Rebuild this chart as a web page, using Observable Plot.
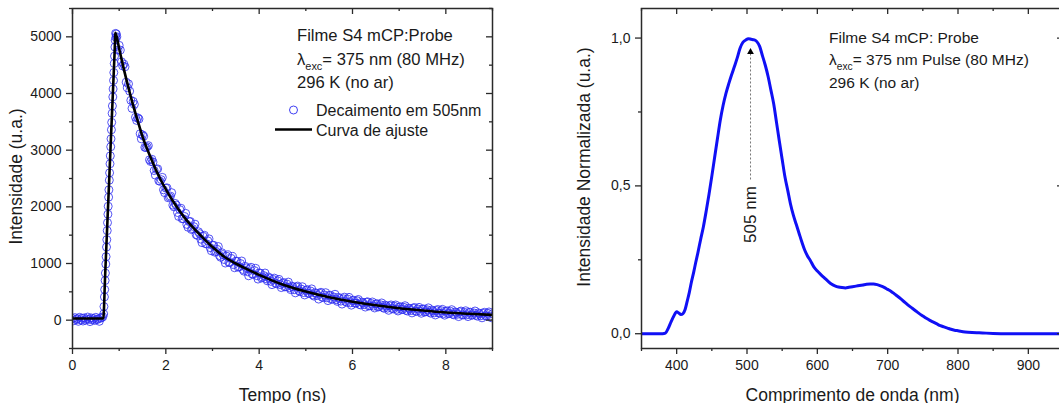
<!DOCTYPE html>
<html>
<head>
<meta charset="utf-8">
<script src="https://cdn.jsdelivr.net/npm/d3@7"></script>
<script src="https://cdn.jsdelivr.net/npm/@observablehq/plot@0.6"></script>
<style>
  html, body { margin: 0; padding: 0; background: #fff; overflow: hidden; }
  #wrap { display: flex; width: 1070px; height: 403px; }
  #wrap svg { flex: none; }
</style>
</head>
<body>
<div id="wrap"></div>
<script>
// ---------------- LEFT PANEL DATA: decay at 505 nm ----------------
// baseline channels (t = 0 .. 0.65 ns, 0.025 ns apart)
const baseStart = 0, baseStep = 0.025;
const baseCounts = [30, -10, 45, 10, 25, -20, 50, 5, 35, -15, 40, 0, 20, 55, 15, -25, 40, 5, 30, -5, 50, 10, 25, -20, 35, 45, 60];

// rising edge
const riseTime = [0.668, 0.674, 0.684, 0.690, 0.699, 0.705, 0.714, 0.720, 0.729, 0.735, 0.744, 0.750, 0.759, 0.765, 0.774, 0.780, 0.789, 0.795, 0.804, 0.810, 0.819, 0.825, 0.834, 0.840, 0.849, 0.855, 0.864, 0.870, 0.879, 0.885, 0.894, 0.900, 0.909, 0.915, 0.923, 0.930, 0.940];
const riseCounts = [110, 240, 410, 540, 700, 830, 990, 1120, 1290, 1420, 1580, 1720, 1870, 2010, 2170, 2300, 2470, 2600, 2760, 2900, 3060, 3200, 3360, 3490, 3650, 3780, 3940, 4080, 4230, 4370, 4530, 4660, 4820, 4940, 5060, 4990, 5050];

// decay channels, set A (t = 0.95 .. 9.0 ns, 0.05 ns apart)
const tailStartA = 0.95, tailStep = 0.05;
const tailCountsA = [
  5000, 4850, 4560, 4520, 4200, 4170, 3880, 3860, 3580, 3570,
  3290, 3270, 3050, 3060, 2830, 2840, 2640, 2660, 2460, 2480,
  2300, 2330, 2160, 2190, 2030, 2060, 1900, 1950, 1790, 1830,
  1690, 1740, 1600, 1650, 1510, 1560, 1430, 1480, 1350, 1400,
  1280, 1320, 1200, 1250, 1140, 1190, 1070, 1130, 1020, 1090,
  980, 1040, 935, 1000, 895, 950, 855, 910, 815, 875,
  785, 835, 743, 786, 729, 762, 685, 718, 651, 694,
  627, 650, 587, 635, 572, 600, 537, 585, 522, 550,
  487, 525, 475, 515, 445, 485, 435, 475, 405, 445,
  395, 435, 367, 409, 361, 403, 336, 378, 330, 372,
  304, 346, 300, 343, 277, 320, 274, 318, 251, 295,
  248, 287, 232, 272, 226, 266, 211, 251, 206, 245,
  190, 230, 186, 227, 173, 214, 170, 211, 157, 198,
  154, 195, 142, 183, 140, 181, 128, 170, 126, 168,
  114, 156, 114, 156, 104, 146, 104, 147, 94, 137,
  94, 137, 85, 128, 86, 129, 77, 120, 78, 121,
  69, 112
];
// decay channels, set B (t = 0.975 .. 8.975 ns, 0.05 ns apart)
const tailStartB = 0.975;
const tailCountsB = [
  4765, 4766, 4487, 4471, 4103, 4042, 3738, 3808, 3525, 3550,
  3200, 3245, 3045, 3080, 2800, 2790, 2560, 2670, 2450, 2520,
  2250, 2335, 2175, 2250, 2000, 2030, 1830, 1975, 1790, 1885,
  1640, 1741, 1614, 1694, 1495, 1527, 1368, 1498, 1347, 1435,
  1225, 1321, 1214, 1299, 1110, 1157, 1008, 1153, 1017, 1125,
  925, 1041, 944, 1044, 865, 922, 783, 933, 807, 915,
  725, 829, 755, 832, 694, 738, 627, 742, 642, 720,
  575, 664, 590, 672, 539, 588, 482, 602, 502, 590,
  445, 539, 470, 552, 424, 473, 372, 492, 397, 485,
  345, 439, 373, 457, 331, 383, 284, 406, 313, 403,
  265, 353, 301, 365, 268, 307, 231, 324, 253, 321,
  215, 290, 240, 304, 209, 249, 174, 269, 198, 268,
  162, 238, 189, 255, 161, 202, 128, 224, 155, 226,
  122, 198, 150, 217, 123, 165, 92, 188, 120, 191,
  88, 165, 118, 185, 93, 135, 63, 161, 93, 166,
  63, 141, 94, 162, 70, 113, 41, 139, 72, 145,
  43
];

// fitted curve
const fitTime  = [0, 0.66, 0.70, 0.75, 0.80, 0.85, 0.90, 0.92, 1.0, 1.1, 1.2, 1.3, 1.4, 1.5, 1.6, 1.7, 1.8, 1.9, 2.0, 2.2, 2.4, 2.6, 2.8, 3.0, 3.25, 3.5, 3.75, 4.0, 4.5, 5.0, 5.5, 6.0, 6.5, 7.0, 7.5, 8.0, 8.5, 9.0];
const fitValue = [30, 30, 805, 1775, 2745, 3715, 4680, 5070, 4790, 4430, 4100, 3790, 3510, 3240, 3020, 2820, 2630, 2460, 2310, 2040, 1810, 1620, 1450, 1290, 1120, 1000, 895, 800, 630, 505, 405, 326, 262, 210, 170, 136, 112, 92];

const leftXMajor = [0, 2, 4, 6, 8];
const leftXMinor = [1, 3, 5, 7, 9];
const leftYMajor = [0, 1000, 2000, 3000, 4000, 5000];
const leftYMinor = [-500, 500, 1500, 2500, 3500, 4500, 5500];

const leftInfo = [
  [["Filme S4 mCP:Probe"]],
  [["λ"], ["exc", "sub"], ["= 375 nm (80 MHz)"]],
  [["296 K (no ar)"]]
];
const leftLegend = ["Decaimento em 505nm", "Curva de ajuste"];

// ---------------- RIGHT PANEL DATA: emission spectrum ----------------
const wavelength = [350, 360, 370, 380, 384, 388, 392, 396, 400, 403, 406, 409, 412, 415, 418, 421, 424, 427, 430, 434, 438, 442, 446, 450, 454, 458, 462, 466, 470, 474, 478, 482, 486, 490, 494, 498, 502, 506, 510, 514, 518, 522, 526, 530, 534, 538, 542, 546, 550, 554, 558, 562, 566, 570, 574, 578, 582, 586, 590, 595, 600, 605, 610, 615, 620, 625, 630, 635, 640, 645, 650, 655, 660, 665, 670, 675, 680, 685, 690, 695, 700, 705, 710, 715, 720, 725, 730, 735, 740, 745, 750, 755, 760, 765, 770, 775, 780, 785, 790, 795, 800, 810, 820, 830, 840, 850, 870, 900, 950];
const intensity = [0.000, 0.000, 0.000, 0.000, 0.002, 0.018, 0.040, 0.060, 0.074, 0.070, 0.065, 0.068, 0.082, 0.110, 0.140, 0.175, 0.206, 0.240, 0.272, 0.318, 0.362, 0.415, 0.472, 0.533, 0.597, 0.660, 0.722, 0.772, 0.812, 0.845, 0.875, 0.903, 0.932, 0.965, 0.985, 0.993, 0.998, 0.996, 0.994, 0.988, 0.972, 0.940, 0.908, 0.870, 0.824, 0.777, 0.714, 0.651, 0.590, 0.530, 0.484, 0.437, 0.400, 0.370, 0.340, 0.310, 0.283, 0.263, 0.248, 0.226, 0.212, 0.200, 0.189, 0.178, 0.168, 0.162, 0.158, 0.156, 0.155, 0.157, 0.159, 0.161, 0.163, 0.165, 0.167, 0.168, 0.168, 0.166, 0.162, 0.157, 0.150, 0.143, 0.134, 0.125, 0.115, 0.105, 0.095, 0.086, 0.077, 0.068, 0.060, 0.052, 0.045, 0.039, 0.033, 0.027, 0.023, 0.019, 0.015, 0.012, 0.010, 0.006, 0.004, 0.003, 0.002, 0.001, 0.000, 0.000, 0.000];

const peakWavelength = 505;
const peakLabel = "505 nm";

const rightXMajor = [400, 500, 600, 700, 800, 900];
const rightXMinor = [350, 450, 550, 650, 750, 850, 950];
const rightYMajor = [0, 0.5, 1.0];
const rightYMinor = [0.25, 0.75];

const rightInfo = [
  [["Filme S4 mCP: Probe"]],
  [["λ"], ["exc", "sub"], ["= 375 nm Pulse (80 MHz)"]],
  [["296 K (no ar)"]]
];

// ---------------- build tables ----------------
const decayPoints = [
  ...baseCounts.map((v, i) => ({t: baseStart + i * baseStep, v})),
  ...riseTime.map((t, i) => ({t, v: riseCounts[i]})),
  ...tailCountsA.map((v, i) => ({t: tailStartA + i * tailStep, v})),
  ...tailCountsB.map((v, i) => ({t: tailStartB + i * tailStep, v}))
];
const fitPoints = fitTime.map((t, i) => ({t, v: fitValue[i]}));
const spectrum = wavelength.map((w, i) => ({w, v: intensity[i]}));

// ---------------- styling ----------------
const FONT = "'Liberation Sans', Arial, Helvetica, sans-serif";
const INK = "#1a1a1a";
const AXIS = "#2a2a2a";
const BLUE_DOT = "#2a2af0";
const BLUE_LINE = "#1010f5";

function textBlock(lines, {x, y, lineHeight, fontSize}) {
  return (index, scales, values, dims) => {
    const g = d3.create("svg:g")
      .attr("font-family", FONT).attr("font-size", fontSize).attr("fill", INK)
      .attr("text-anchor", "start");
    lines.forEach((parts, i) => {
      const t = g.append("text")
        .attr("x", dims.marginLeft + x)
        .attr("y", dims.marginTop + y + i * lineHeight);
      let shifted = false;
      for (const [str, kind] of parts) {
        const s = t.append("tspan").text(str);
        if (kind === "sub") {
          s.attr("font-size", fontSize * 0.66).attr("dy", fontSize * 0.3);
          shifted = true;
        } else if (shifted) {
          s.attr("dy", -fontSize * 0.3);
          shifted = false;
        }
      }
    });
    return g.node();
  };
}

function legendBlock(labels, {x, y, lineHeight, fontSize}) {
  return (index, scales, values, dims) => {
    const g = d3.create("svg:g")
      .attr("font-family", FONT).attr("font-size", fontSize).attr("fill", INK)
      .attr("text-anchor", "start");
    const x0 = dims.marginLeft + x, y0 = dims.marginTop + y;
    g.append("circle").attr("cx", x0 - 22.5).attr("cy", y0 - 6).attr("r", 4)
      .attr("fill", "none").attr("stroke", BLUE_DOT).attr("stroke-width", 0.9);
    g.append("text").attr("x", x0).attr("y", y0).text(labels[0]);
    g.append("line").attr("x1", x0 - 41).attr("x2", x0 - 4)
      .attr("y1", y0 + lineHeight - 6).attr("y2", y0 + lineHeight - 6)
      .attr("stroke", "#000").attr("stroke-width", 2.6);
    g.append("text").attr("x", x0).attr("y", y0 + lineHeight).text(labels[1]);
    return g.node();
  };
}

function frameAndTicks({xMajor, xMinor, yMajor, yMinor, plotW, plotH, xFormat, yFormat}) {
  const tickStyle = {stroke: AXIS, strokeWidth: 1.3};
  return [
    Plot.frame({stroke: AXIS, strokeWidth: 1.5}),
    Plot.axisX(xMajor, {anchor: "bottom", tickSize: 6, tickPadding: 6, tickFormat: xFormat, fontSize: 14, label: null, ...tickStyle}),
    Plot.axisX(xMinor, {anchor: "bottom", tickSize: 3, tickFormat: () => "", label: null, ...tickStyle}),
    Plot.axisY(yMajor, {anchor: "left", tickSize: 6, tickPadding: 5, tickFormat: yFormat, fontSize: 14, label: null, ...tickStyle}),
    Plot.axisY(yMinor, {anchor: "left", tickSize: 3, tickFormat: () => "", label: null, ...tickStyle}),
    Plot.tickX(xMajor, {x: d => d, insetBottom: plotH - 6, ...tickStyle}),
    Plot.tickX(xMinor, {x: d => d, insetBottom: plotH - 3, ...tickStyle}),
    Plot.tickY(yMajor, {y: d => d, insetLeft: plotW - 6, ...tickStyle}),
    Plot.tickY(yMinor, {y: d => d, insetLeft: plotW - 3, ...tickStyle})
  ];
}

const H = 403, MT = 8, MB = 55;

// ---------------- LEFT PLOT ----------------
const LW = 530, LML = 72, LMR = 38;
const left = Plot.plot({
  width: LW, height: H,
  marginLeft: LML, marginRight: LMR, marginTop: MT, marginBottom: MB,
  style: {fontFamily: FONT, fontSize: "14px", color: INK, background: "#fff", overflow: "visible"},
  x: {domain: [0, 9]},
  y: {domain: [-500, 5500]},
  marks: [
    Plot.dot(decayPoints, {x: "t", y: "v", r: 4, stroke: BLUE_DOT, strokeWidth: 0.8, fill: "none", clip: true}),
    Plot.line(fitPoints, {x: "t", y: "v", stroke: "#000", strokeWidth: 2.6, curve: "monotone-x", clip: true}),
    ...frameAndTicks({xMajor: leftXMajor, xMinor: leftXMinor, yMajor: leftYMajor, yMinor: leftYMinor,
      plotW: LW - LML - LMR, plotH: H - MT - MB, xFormat: d => String(d), yFormat: d => String(d)}),
    Plot.text(["Tempo (ns)"], {text: d => d, frameAnchor: "bottom", lineAnchor: "bottom", textAnchor: "middle", dy: 52, fontSize: 17.5}),
    Plot.text(["Intensidade (u.a.)"], {text: d => d, frameAnchor: "left", textAnchor: "middle", rotate: -90, dx: -56, dy: -2, fontSize: 17.5}),
    textBlock(leftInfo, {x: 225, y: 33, lineHeight: 23.6, fontSize: 16.6}),
    legendBlock(leftLegend, {x: 244, y: 108, lineHeight: 19.5, fontSize: 16})
  ]
});

// ---------------- RIGHT PLOT ----------------
const RW = 540, RML = 111, RMR = 7;
const right = Plot.plot({
  width: RW, height: H,
  marginLeft: RML, marginRight: RMR, marginTop: MT, marginBottom: MB,
  style: {fontFamily: FONT, fontSize: "14px", color: INK, background: "#fff", overflow: "visible"},
  x: {domain: [350, 950]},
  y: {domain: [-0.05, 1.1]},
  marks: [
    Plot.line(spectrum, {x: "w", y: "v", stroke: BLUE_LINE, strokeWidth: 3, curve: "monotone-x", clip: true}),
    Plot.ruleX([{x: peakWavelength, y1: 0.52, y2: 0.945}], {x: "x", y1: "y1", y2: "y2", stroke: "#777", strokeWidth: 1, strokeDasharray: "2,2"}),
    Plot.dot([{x: peakWavelength, y: 0.953}], {x: "x", y: "y", symbol: "triangle", r: 2.5, fill: "#000", stroke: "none"}),
    Plot.text([{x: peakWavelength, y: 0.403, label: peakLabel}], {x: "x", y: "y", text: "label", rotate: -90, fontSize: 17, fill: INK}),
    ...frameAndTicks({xMajor: rightXMajor, xMinor: rightXMinor, yMajor: rightYMajor, yMinor: rightYMinor,
      plotW: RW - RML - RMR, plotH: H - MT - MB, xFormat: d => String(d), yFormat: d => d.toFixed(1).replace(".", ",")}),
    Plot.text(["Comprimento de onda (nm)"], {text: d => d, frameAnchor: "bottom", lineAnchor: "bottom", textAnchor: "middle", dy: 52, fontSize: 17.5}),
    Plot.text(["Intensidade Normalizada (u.a.)"], {text: d => d, frameAnchor: "left", textAnchor: "middle", rotate: -90, dx: -57, dy: -11.5, fontSize: 17.5}),
    textBlock(rightInfo, {x: 188, y: 35.3, lineHeight: 22.1, fontSize: 15.5})
  ]
});

document.getElementById("wrap").append(left, right);
</script>
</body>
</html>
